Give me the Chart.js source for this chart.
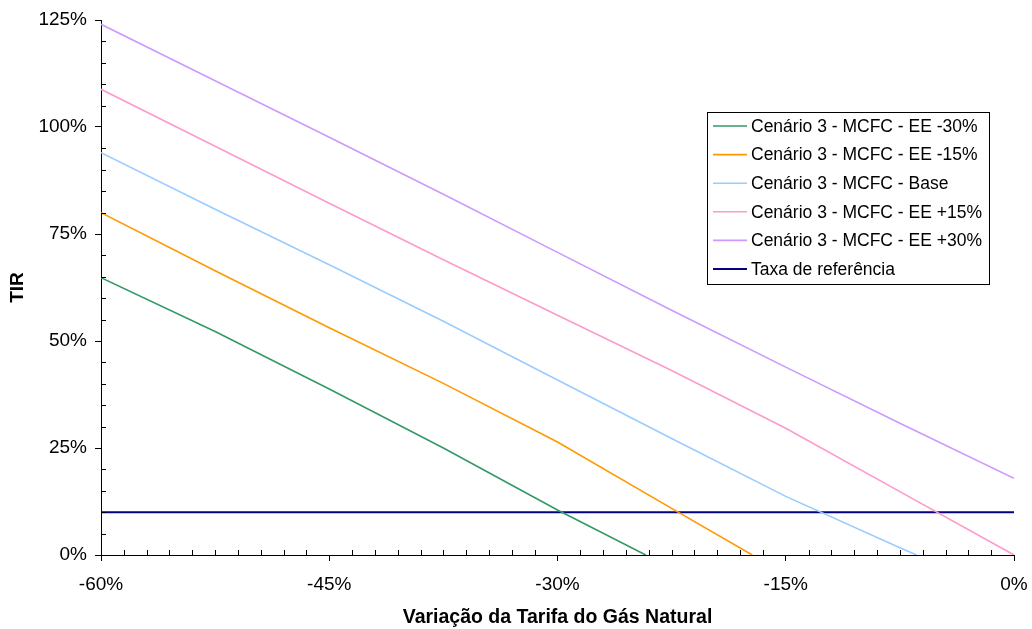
<!DOCTYPE html>
<html>
<head>
<meta charset="utf-8">
<script src="https://cdn.jsdelivr.net/npm/chart.js@4/dist/chart.umd.min.js"></script>
<style>
  html, body { margin: 0; padding: 0; background: #fff; }
  #wrap { position: relative; width: 1032px; height: 629px; }
</style>
</head>
<body>
<div id="wrap"><canvas id="tir"></canvas></div>
<script>
// Variação da tarifa do gás natural (%)
const xSteps = [-60, -52.5, -45, -37.5, -30, -22.5, -15, -7.5, 0];

// TIR (%) read at each step
const tirMenos30 = [64.8, 52.2, 38.8, 25.0, 10.5];
const tirMenos15 = [80.0, 66.4, 53.1, 40.1, 26.4, 10.9];
const tirBase    = [94.0, 80.8, 67.8, 54.6, 40.9, 27.2, 13.7, 1.7];
const tirMais15  = [108.8, 95.5, 82.2, 69.0, 56.0, 43.1, 29.6, 14.8, 0];
const tirMais30  = [124.0, 110.8, 97.6, 84.3, 70.7, 57.2, 43.9, 30.8, 17.9];

// where each curve reaches TIR = 0%
const zeroAt = [-24.2, -17.2, -6.4, null, null];

const taxaReferencia = 10;

const seriesNames = [
    'Cenário 3 - MCFC - EE -30%',
    'Cenário 3 - MCFC - EE -15%',
    'Cenário 3 - MCFC - Base',
    'Cenário 3 - MCFC - EE +15%',
    'Cenário 3 - MCFC - EE +30%',
    'Taxa de referência'
];
const seriesColors = ['#339966', '#FF9900', '#99CCFF', '#FF99CC', '#CC99FF', '#000080'];

function points(vals, zero) {
    const p = vals.map((v, i) => ({ x: xSteps[i], y: v }));
    if (zero !== null) p.push({ x: zero, y: 0 });
    return p;
}

const allSeries = [tirMenos30, tirMenos15, tirBase, tirMais15, tirMais30];
const datasets = allSeries.map((vals, i) => ({
    label: seriesNames[i],
    data: points(vals, zeroAt[i]),
    borderColor: seriesColors[i],
    borderWidth: 1.6
}));
datasets.push({
    label: seriesNames[5],
    data: [{ x: xSteps[0], y: taxaReferencia }, { x: xSteps[xSteps.length - 1], y: taxaReferencia }],
    borderColor: seriesColors[5],
    borderWidth: 2
});

// small inner tick marks, like the original
const minorTicks = {
    id: 'minorTicks',
    afterDraw(chart) {
        const ctx = chart.ctx, x = chart.scales.x, y = chart.scales.y;
        const area = chart.chartArea;
        ctx.save();
        ctx.strokeStyle = '#000';
        ctx.lineWidth = 1;
        ctx.beginPath();
        for (let i = 0; i <= 40; i++) {
            if (i % 10 === 0) continue;
            const px = Math.round(x.getPixelForValue(-60 + i * 1.5)) + 0.5;
            ctx.moveTo(px, area.bottom);
            ctx.lineTo(px, area.bottom - 5);
        }
        for (let i = 0; i <= 25; i++) {
            if (i % 5 === 0) continue;
            const py = Math.round(y.getPixelForValue(i * 5)) + 0.5;
            ctx.moveTo(area.left, py);
            ctx.lineTo(area.left + 5, py);
        }
        ctx.stroke();
        ctx.restore();
    }
};

// boxed legend inside the plot, top right
const boxLegend = {
    id: 'boxLegend',
    afterDraw(chart) {
        const ctx = chart.ctx;
        const bx = 707, by = 112, bw = 282, bh = 172;
        ctx.save();
        ctx.fillStyle = '#fff';
        ctx.fillRect(bx, by, bw, bh);
        ctx.strokeStyle = '#000';
        ctx.lineWidth = 1;
        ctx.strokeRect(bx + 0.5, by + 0.5, bw, bh);
        ctx.font = '17.5px "Liberation Sans", Arial, sans-serif';
        ctx.textBaseline = 'middle';
        chart.data.datasets.forEach((ds, i) => {
            const cy = by + 14 + i * 28.6;
            ctx.strokeStyle = ds.borderColor;
            ctx.lineWidth = ds.borderWidth;
            ctx.beginPath();
            ctx.moveTo(bx + 6, cy);
            ctx.lineTo(bx + 40, cy);
            ctx.stroke();
            ctx.fillStyle = '#000';
            ctx.fillText(ds.label, bx + 44, cy + 1);
        });
        ctx.restore();
    }
};

const options = {
    responsive: true,
    maintainAspectRatio: false,
    animation: false,
    layout: { padding: { top: 20, right: 18, left: 0, bottom: 0 } },
    elements: {
        point: { radius: 0 },
        line: { tension: 0 }
    },
    plugins: {
        legend: { display: false },
        tooltip: { enabled: false }
    },
    scales: {
        x: {
            type: 'linear',
            min: -60,
            max: 0,
            afterFit(scale) {
                scale.height = 74;
                scale.paddingLeft = 0;
                scale.paddingRight = 0;
            },
            border: { color: '#000', width: 1 },
            grid: { drawOnChartArea: false, color: '#000', tickLength: 6 },
            ticks: {
                stepSize: 15,
                color: '#000',
                padding: 12,
                font: { family: '"Liberation Sans", Arial, sans-serif', size: 19 },
                callback: v => v + '%'
            },
            title: {
                display: true,
                text: 'Variação da Tarifa do Gás Natural',
                color: '#000',
                padding: { top: 2, bottom: 0 },
                font: { family: '"Liberation Sans", Arial, sans-serif', size: 19.5, weight: 'bold' }
            }
        },
        y: {
            min: 0,
            max: 125,
            afterFit(scale) { scale.width = 101; },
            border: { color: '#000', width: 1 },
            grid: { drawOnChartArea: false, color: '#000', tickLength: 6 },
            ticks: {
                stepSize: 25,
                color: '#000',
                padding: 8,
                font: { family: '"Liberation Sans", Arial, sans-serif', size: 19 },
                callback: v => v + '%'
            },
            title: {
                display: true,
                text: 'TIR',
                color: '#000',
                padding: { top: 6, bottom: 0 },
                font: { family: '"Liberation Sans", Arial, sans-serif', size: 19, weight: 'bold' }
            }
        }
    }
};

new Chart(document.getElementById('tir'), {
    type: 'line',
    data: { datasets: datasets },
    options: options,
    plugins: [minorTicks, boxLegend]
});
</script>
</body>
</html>
